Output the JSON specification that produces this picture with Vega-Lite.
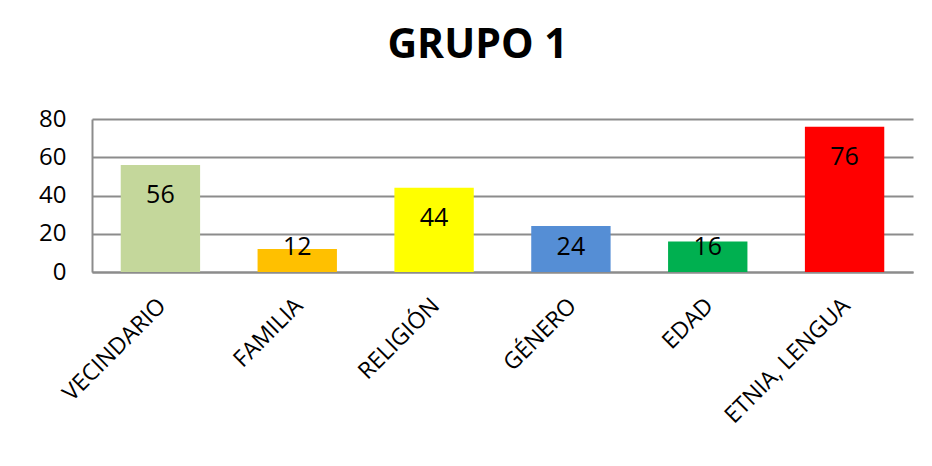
{
  "$schema": "https://vega.github.io/schema/vega-lite/v6.json",
  "width": 821,
  "height": 153,
  "autosize": "none",
  "padding": {"left": 92, "top": 119, "right": 19, "bottom": 194},
  "background": "white",
  "title": {"text": "GRUPO 1", "fontSize": 41, "font": "Open Sans", "fontWeight": "bold", "color": "black", "offset": 40, "dx": -25},
  "config": {"view": {"stroke": null}, "font": "Open Sans"},
  "data": {"values": [
    {"cat": "VECINDARIO", "v": 56},
    {"cat": "FAMILIA", "v": 12},
    {"cat": "RELIGIÓN", "v": 44},
    {"cat": "GÉNERO", "v": 24},
    {"cat": "EDAD", "v": 16},
    {"cat": "ETNIA, LENGUA", "v": 76}
  ]},
  "encoding": {
    "x": {"field": "cat", "type": "nominal", "sort": null,
      "scale": {"paddingInner": 0.42, "paddingOuter": 0.21},
      "axis": {"title": null, "labelAngle": -45, "labelAlign": "right", "labelBaseline": "top", "labelFontSize": 23, "labelFont": "Open Sans", "labelColor": "black", "labelPadding": 22, "ticks": false, "domainColor": "#8c8c8c", "domainWidth": 2, "labelOffset": -6, "labelOverlap": false}
    },
    "y": {"field": "v", "type": "quantitative", "scale": {"domain": [0, 80]},
      "axis": {"title": null, "values": [0, 20, 40, 60, 80], "tickCount": 5, "labelOverlap": false, "labelFontSize": 24, "labelFont": "Open Sans", "labelColor": "black", "labelPadding": 26, "ticks": false, "gridColor": "#8c8c8c", "gridWidth": 2, "domainColor": "#8c8c8c", "domainWidth": 2}}
  },
  "layer": [
    {
      "mark": {"type": "bar"},
      "encoding": {
        "color": {"field": "cat", "type": "nominal", "sort": null, "legend": null,
          "scale": {"domain": ["VECINDARIO", "FAMILIA", "RELIGIÓN", "GÉNERO", "EDAD", "ETNIA, LENGUA"],
                    "range": ["#C4D79B", "#FFC000", "#FFFF00", "#558ED5", "#00B050", "#FF0000"]}}
      }
    },
    {
      "transform": [{"calculate": "max(datum.v, 29)", "as": "ly"}],
      "mark": {"type": "text", "dy": 30, "baseline": "middle", "fontSize": 25, "font": "Open Sans", "color": "black"},
      "encoding": {
        "y": {"field": "ly", "type": "quantitative", "scale": {"domain": [0, 80]},
          "axis": {"title": null, "values": [0, 20, 40, 60, 80], "tickCount": 5, "labelOverlap": false, "labelFontSize": 24, "labelFont": "Open Sans", "labelColor": "black", "labelPadding": 26, "ticks": false, "gridColor": "#8c8c8c", "gridWidth": 2, "domainColor": "#8c8c8c", "domainWidth": 2}},
        "text": {"field": "v", "type": "quantitative"}
      }
    }
  ]
}
